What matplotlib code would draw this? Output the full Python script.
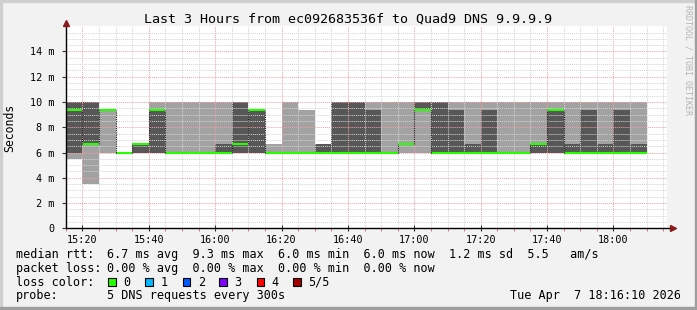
import matplotlib
matplotlib.use('Agg')
import matplotlib.pyplot as plt
from matplotlib.patches import Rectangle

W, H = 697, 310
MONO = 'DejaVu Sans Mono'

# 5-minute bins (start time), values in ms
bin_start = ['15:15', '15:20', '15:25', '15:30', '15:35', '15:40', '15:45', '15:50',
             '15:55', '16:00', '16:05', '16:10', '16:15', '16:20', '16:25', '16:30',
             '16:35', '16:40', '16:45', '16:50', '16:55', '17:00', '17:05', '17:10',
             '17:15', '17:20', '17:25', '17:30', '17:35', '17:40', '17:45', '17:50',
             '17:55', '18:00', '18:05']
light_lo = [5.45, 3.5, 6.0, 6.0, 6.0, 6.0, 6.0, 6.0, 6.0, 6.0, 6.0, 6.0, 6.0, 6.0, 6.0, 6.0,
            6.0, 6.0, 6.0, 6.0, 6.0, 6.0, 6.0, 6.0, 6.0, 6.0, 6.0, 6.0, 6.0, 6.0, 6.0, 6.0,
            6.0, 6.0, 6.0]
light_hi = [10.0, 10.0, 9.33, 6.0, 6.67, 10.0, 10.0, 10.0, 10.0, 10.0, 10.0, 9.33, 6.67, 10.0,
            9.33, 6.67, 10.0, 10.0, 10.0, 10.0, 10.0, 10.0, 10.0, 10.0, 10.0, 10.0, 10.0, 10.0,
            10.0, 10.0, 10.0, 10.0, 10.0, 10.0, 10.0]
dark_lo = [6.0, 6.67, 9.33, 6.0, 6.0, 6.0, 6.0, 6.0, 6.0, 6.0, 6.0, 6.0, 6.0, 6.0, 6.0, 6.0,
           6.0, 6.0, 6.0, 6.0, 6.67, 9.33, 6.0, 6.0, 6.0, 6.0, 6.0, 6.0, 6.0, 6.0, 6.0, 6.0,
           6.0, 6.0, 6.0]
dark_hi = [10.0, 10.0, 9.33, 6.0, 6.67, 9.33, 6.0, 6.0, 6.0, 6.67, 10.0, 9.33, 6.0, 6.0, 6.0,
           6.67, 10.0, 10.0, 9.33, 6.0, 6.67, 10.0, 10.0, 9.33, 6.67, 9.33, 6.0, 6.0, 6.67,
           9.33, 6.67, 9.33, 6.67, 9.33, 6.67]
median = [9.33, 6.67, 9.33, 6.0, 6.67, 9.33, 6.0, 6.0, 6.0, 6.0, 6.67, 9.33, 6.0, 6.0, 6.0,
          6.0, 6.0, 6.0, 6.0, 6.0, 6.67, 9.33, 6.0, 6.0, 6.0, 6.0, 6.0, 6.0, 6.67, 9.33, 6.0,
          6.0, 6.0, 6.0, 6.0]

x_ticks = ['15:20', '15:40', '16:00', '16:20', '16:40', '17:00', '17:20', '17:40', '18:00']
y_ticks = [0, 2, 4, 6, 8, 10, 12, 14]
y_labels = ['0', '2 m', '4 m', '6 m', '8 m', '10 m', '12 m', '14 m']
loss_labels = ['0', '1', '2', '3', '4', '5/5']
loss_colors = ['#26ff00', '#00b8ff', '#0059ff', '#7e00ff', '#ff0000', '#a10000']

t_start, t_end = '15:16:10', '18:16:10'


def to_min(s):
    parts = [int(p) for p in s.split(':')]
    m = parts[0] * 60 + parts[1] - 15 * 60
    if len(parts) == 3:
        m += parts[2] / 60.0
    return m


def px(x, y):
    return x / W, 1 - y / H


xs = [to_min(s) for s in bin_start]

fig = plt.figure(figsize=(W / 100, H / 100), dpi=100, facecolor='#f2f2f2')

# 3d frame around the canvas
fig.patches.append(Rectangle((0, 0), 2 / W, 1, transform=fig.transFigure, color='#cfcfcf'))
fig.patches.append(Rectangle((0, 1 - 2 / H), 1, 2 / H, transform=fig.transFigure, color='#cfcfcf'))
fig.patches.append(Rectangle((1 - 2 / W, 0), 2 / W, 1, transform=fig.transFigure, color='#9e9e9e'))
fig.patches.append(Rectangle((0, 0), 1, 3 / H, transform=fig.transFigure, color='#9e9e9e'))

left, bottom = px(65.9, 228.3)
ax = fig.add_axes([left, bottom, 601.2 / W, 202.1 / H], facecolor='white')
ax.set_xlim(to_min(t_start), to_min(t_end))
ax.set_ylim(0, 16)

# smoke
lh = [h - l for l, h in zip(light_lo, light_hi)]
dh = [h - l for l, h in zip(dark_lo, dark_hi)]
ax.bar(xs, lh, bottom=light_lo, width=5, align='edge', color='#a2a2a2', linewidth=0, zorder=1)
ax.bar(xs, dh, bottom=dark_lo, width=5, align='edge', color='#575757', linewidth=0, zorder=1.2)

# median line: green steps, dark dotted risers
ends = [x + 5 for x in xs]
ax.hlines(median, xs, ends, color=loss_colors[0], linewidth=1.5, zorder=3)
for i in range(1, len(median)):
    if median[i] != median[i - 1]:
        ax.vlines(xs[i], min(median[i], median[i - 1]), max(median[i], median[i - 1]),
                  color='#1a1a1a', linewidth=0.8, linestyles=(0, (1, 1)), zorder=3)

# grid
ax.set_xticks([to_min(t) for t in x_ticks])
ax.set_xticks([to_min('15:20') - 5 + 5 * k for k in range(37)], minor=True)
ax.set_yticks(y_ticks)
ax.set_yticks([0.5 * k for k in range(32)], minor=True)
ax.set_axisbelow(False)
ax.grid(True, which='minor', color='#d4d4d4', linewidth=0.7, linestyle=(0, (1, 1)))
ax.grid(True, which='major', color='#f2a0a0', linewidth=0.7, linestyle=(0, (1, 1)))
ax.set_xticklabels(x_ticks, fontfamily=MONO, fontsize=7.3)
ax.set_yticklabels(y_labels, fontfamily=MONO, fontsize=7.3)
ax.tick_params(axis='x', which='major', direction='inout', length=5, width=0.8, pad=2, color='#333333')
ax.tick_params(axis='y', which='major', direction='out', length=3, width=0.8, pad=5, color='#333333')
ax.tick_params(axis='x', which='minor', direction='out', length=2, width=0.7, color='#e07070')
ax.tick_params(axis='y', which='minor', length=0)
for s in ax.spines.values():
    s.set_visible(False)

# axes with arrows
ax.plot([0, 1.008], [0, 0], transform=ax.transAxes, color='black', linewidth=1, clip_on=False, zorder=4)
ax.plot([0, 0], [0, 1.015], transform=ax.transAxes, color='black', linewidth=1, clip_on=False, zorder=4)
ax.plot([1.009], [0], transform=ax.transAxes, marker='>', markersize=4, color='#8b1a1a',
        clip_on=False, zorder=5)
ax.plot([0], [1.018], transform=ax.transAxes, marker='^', markersize=4, color='#8b1a1a',
        clip_on=False, zorder=5)

# texts
fig.text(*px(347.5, 19), 'Last 3 Hours from ec092683536f to Quad9 DNS 9.9.9.9',
         ha='center', va='center', fontfamily=MONO, fontsize=9.6)
fig.text(*px(10, 128), 'Seconds', rotation=90, ha='center', va='center',
         fontfamily=MONO, fontsize=8.3)
fig.text(*px(688, 60), 'RRDTOOL / TOBI OETIKER', rotation=-90, ha='center', va='center',
         fontfamily=MONO, fontsize=6, color='#b4b4b4')

fs = 8.5
rows = [254.5, 268.5, 282, 296]
fig.text(*px(16, rows[0]), 'median rtt:', va='center', fontfamily=MONO, fontsize=fs)
fig.text(*px(107.3, rows[0]), '6.7 ms avg  9.3 ms max  6.0 ms min  6.0 ms now  1.2 ms sd  5.5   am/s',
         va='center', fontfamily=MONO, fontsize=fs)
fig.text(*px(16, rows[1]), 'packet loss:', va='center', fontfamily=MONO, fontsize=fs)
fig.text(*px(107.3, rows[1]), '0.00 % avg  0.00 % max  0.00 % min  0.00 % now',
         va='center', fontfamily=MONO, fontsize=fs)
fig.text(*px(16, rows[2]), 'loss color:', va='center', fontfamily=MONO, fontsize=fs)
box_x = [108.3, 145.3, 182.7, 219.3, 256.7, 293.3]
for bx, lab, c in zip(box_x, loss_labels, loss_colors):
    fig.patches.append(Rectangle(px(bx, rows[2] + 3.8), 7.5 / W, 7.5 / H, transform=fig.transFigure,
                                 facecolor=c, edgecolor='black', linewidth=0.8))
    fig.text(*px(bx + 15, rows[2]), lab, va='center', fontfamily=MONO, fontsize=fs)
fig.text(*px(16, rows[3]), 'probe:', va='center', fontfamily=MONO, fontsize=fs)
fig.text(*px(107.3, rows[3]), '5 DNS requests every 300s', va='center', fontfamily=MONO, fontsize=fs)
fig.text(*px(681, rows[3]), 'Tue Apr  7 18:16:10 2026', ha='right', va='center',
         fontfamily=MONO, fontsize=fs)

fig.savefig('out.png', dpi=100, facecolor=fig.get_facecolor())
